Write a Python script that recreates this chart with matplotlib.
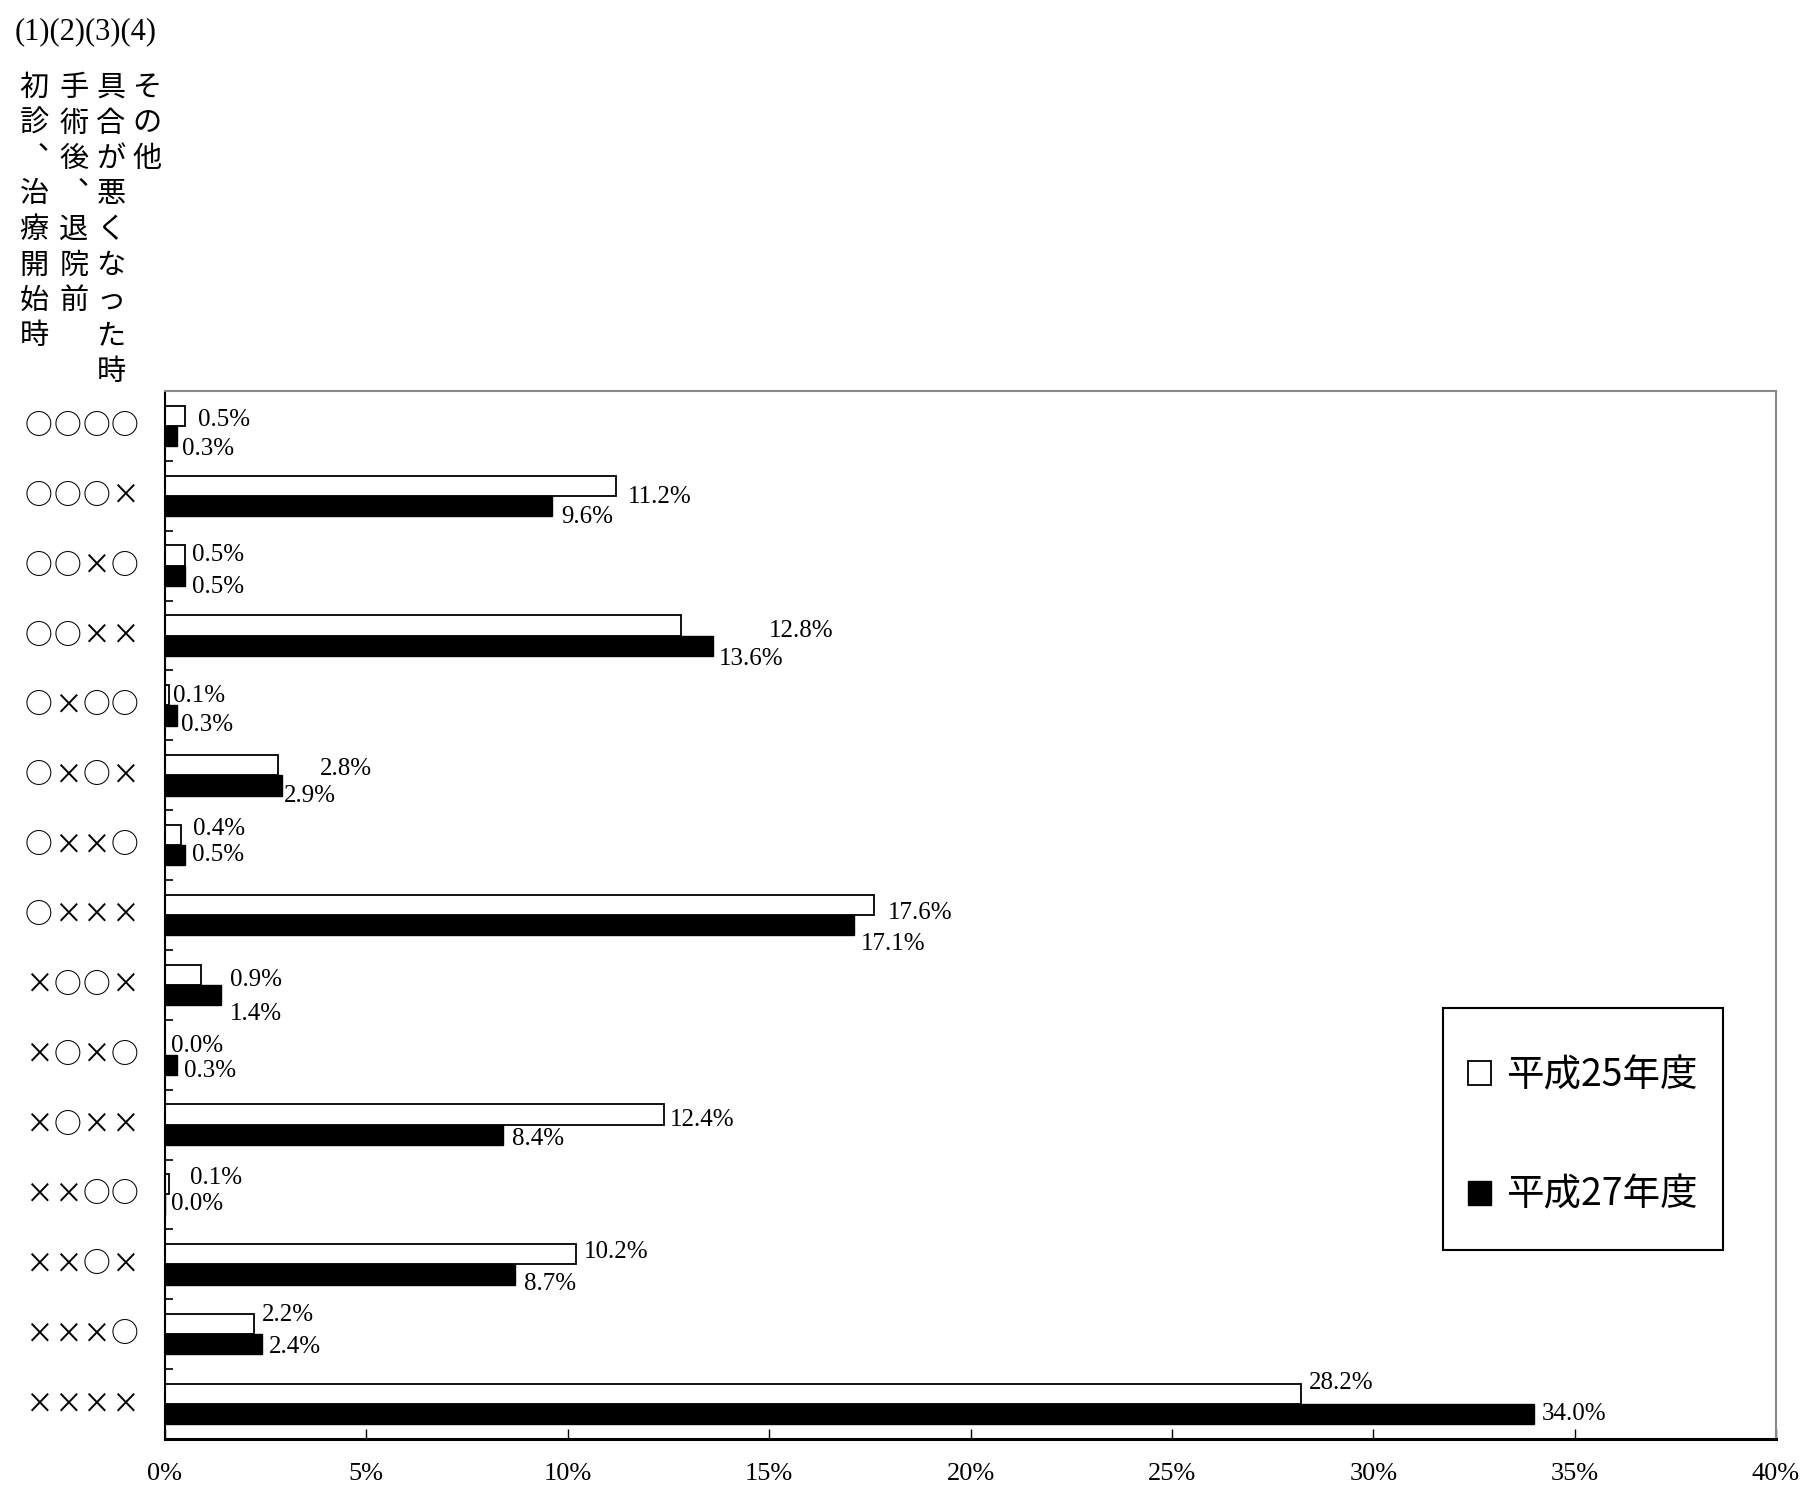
import numpy as np
import matplotlib.pyplot as plt
import matplotlib.transforms as mtransforms
from matplotlib.patches import Rectangle

plt.rcParams['font.family'] = ['Liberation Serif', 'Noto Sans CJK JP', 'DejaVu Sans']

# data
categories = ['○○○○', '○○○×', '○○×○', '○○××', '○×○○', '○×○×', '○××○', '○×××',
              '×○○×', '×○×○', '×○××', '××○○', '××○×', '×××○', '××××']
h25 = [0.5, 11.2, 0.5, 12.8, 0.1, 2.8, 0.4, 17.6, 0.9, 0.0, 12.4, 0.1, 10.2, 2.2, 28.2]
h27 = [0.3, 9.6, 0.5, 13.6, 0.3, 2.9, 0.5, 17.1, 1.4, 0.3, 8.4, 0.0, 8.7, 2.4, 34.0]
series_names = ['平成25年度', '平成27年度']
xticks = [0, 5, 10, 15, 20, 25, 30, 35, 40]
header_nums = '(1)(2)(3)(4)'
header_cols = ['初診︑治療開始時', '手術後︑退院前', '具合が悪くなった時', 'その他']

# label placement tweaks (pixels to the right of bar end, y inside category)
dx25 = [13, 12, 7, 88, 4, 42, 12, 14, 29, 6, 5, 21, 8, 8, 8]
dx27 = [5, 10, 7, 6, 4, 2, 7, 7, 8, 7, 9, 6, 9, 7, 7]
dy25 = [0.41, 0.52, 0.35, 0.44, 0.37, 0.41, 0.27, 0.47, 0.43, 0.37, 0.43, 0.26, 0.33, 0.23, 0.20]
dy27 = [0.83, 0.80, 0.80, 0.84, 0.78, 0.79, 0.64, 0.91, 0.92, 0.73, 0.71, 0.64, 0.78, 0.69, 0.64]

W, H = 1812, 1489
fig = plt.figure(figsize=(W / 100, H / 100), dpi=100)
ax = fig.add_axes([165 / W, 1 - 1439 / H, (1776 - 165) / W, (1439 - 391) / H])

n = len(categories)
pos = np.arange(n) + 0.5
bh = 0.29
b25 = ax.barh(pos - bh / 2, h25, height=bh, color='white', edgecolor='black',
              linewidth=1.3, label=series_names[0])
b27 = ax.barh(pos + bh / 2, h27, height=bh, color='black', edgecolor='black',
              linewidth=1.0, label=series_names[1])

for i in range(n):
    ax.annotate(f'{h25[i]:.1f}%', (h25[i], i + dy25[i]), xytext=(dx25[i], 0),
                textcoords='offset pixels', va='center', ha='left', fontsize=18)
    ax.annotate(f'{h27[i]:.1f}%', (h27[i], i + dy27[i]), xytext=(dx27[i], 0),
                textcoords='offset pixels', va='center', ha='left', fontsize=18)

ax.set_xlim(0, 40)
ax.set_ylim(n, 0)
ax.set_xticks(xticks)
ax.set_xticklabels([f'{t}%' for t in xticks], fontsize=19)
ax.set_yticks(np.arange(n + 1))
ax.set_yticklabels([])
ax.tick_params(axis='x', direction='in', length=7, width=1, pad=17)
ax.tick_params(axis='y', direction='in', length=6, width=1.2)

for s in ['top', 'right']:
    ax.spines[s].set_color('#888888')
    ax.spines[s].set_linewidth(1.5)
ax.spines['left'].set_linewidth(1.5)
ax.spines['bottom'].set_linewidth(2.2)

# category labels, one glyph per cell so that ○ and × keep the same pitch
trans = mtransforms.blended_transform_factory(fig.transFigure, ax.transData)
char_x = [39, 67.5, 96, 124.5]
for i, lab in enumerate(categories):
    for j, ch in enumerate(lab):
        ax.text(char_x[j] / W, i + 0.5, ch, transform=trans, ha='center', va='center',
                fontsize=20, family='Noto Sans CJK JP', clip_on=False)

# header
fig.text(15 / W, 1 - 32 / H, header_nums, ha='left', va='center', fontsize=22)
col_x = [34, 74, 111, 147]
for cx, col in zip(col_x, header_cols):
    for k, ch in enumerate(col):
        fig.text(cx / W, 1 - (88 + k * 35.5) / H, ch, ha='center', va='center',
                 fontsize=21, family='Noto Sans CJK JP')

# legend: frame drawn separately so the inner padding can differ per side
lx0, lx1, ly0, ly1 = 0.7933, 0.967, 0.180, 0.411
ax.add_patch(Rectangle((lx0, ly0), lx1 - lx0, ly1 - ly0, transform=ax.transAxes,
                       facecolor='white', edgecolor='black', linewidth=1.5, zorder=4))
leg = ax.legend(handles=[b25, b27], labels=series_names, loc='center',
                bbox_to_anchor=((lx0 + lx1) / 2, (ly0 + ly1) / 2 - 0.006), borderaxespad=0,
                prop={'family': 'Noto Sans CJK JP', 'size': 27},
                frameon=False, borderpad=0, labelspacing=2.15,
                handlelength=0.62, handleheight=0.62, handletextpad=0.4)
leg.set_zorder(5)

fig.savefig('out.png', dpi=100)
